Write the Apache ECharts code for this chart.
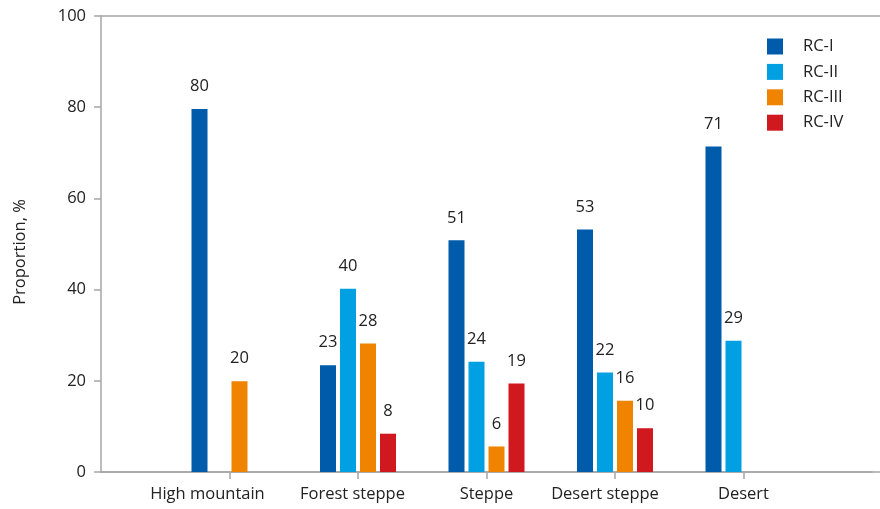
<!DOCTYPE html>
<html>
<head>
<meta charset="utf-8">
<script src="https://cdn.jsdelivr.net/npm/echarts@6/dist/echarts.min.js"></script>
<style>html,body{margin:0;padding:0;background:#fff}#c{width:880px;height:509px}</style>
</head>
<body>
<div id="c"></div>
<script>
var categories = ['', 'High mountain', 'Forest steppe', 'Steppe', 'Desert steppe', 'Desert', ''];
var seriesNames = ['RC-I', 'RC-II', 'RC-III', 'RC-IV'];
var rc1 = [null, 79.6, 23.4, 50.8, 53.2, 71.4, null];
var rc2 = [null, null, 40.2, 24.2, 21.8, 28.8, null];
var rc3 = [null, 19.9, 28.2, 5.6, 15.6, null, null];
var rc4 = [null, null, 8.4, 19.4, 9.6, null, null];
var yTicks = [0, 20, 40, 60, 80, 100];
var colors = ['#005BAA', '#00A0E3', '#F08300', '#D0181F'];
var labelShift = {'High mountain': 44, 'Forest steppe': 11, 'Desert steppe': 20};

var FONT = 'Open Sans';
var FS = 16.5;
var AX = '#a6a6a6';
var chart = echarts.init(document.getElementById('c'), null, {renderer: 'canvas'});

function mk(name, data, color) {
  return {
    name: name, type: 'bar', data: data, barWidth: 16, barGap: '25%',
    xAxisIndex: 0, yAxisIndex: 0,
    itemStyle: {color: color},
    label: {show: true, position: 'top', distance: 14, color: '#222', fontFamily: FONT, fontSize: FS,
      formatter: function (p) { return Math.round(p.value); }}
  };
}

chart.setOption({
  animation: false,
  textStyle: {fontFamily: FONT},
  grid: [
    {left: 101, right: 8, top: 16, bottom: 37},
    {left: 101, right: 0, top: 16, bottom: 37}
  ],
  legend: {
    orient: 'vertical', left: 762, top: 33, itemWidth: 16, itemHeight: 16, itemGap: 8.4,
    icon: 'rect', data: seriesNames,
    textStyle: {fontFamily: FONT, fontSize: FS, color: '#222', padding: [0, 0, 0, 15]}
  },
  xAxis: [
    {
      type: 'category', gridIndex: 0, boundaryGap: false,
      data: categories.map(function (c) {
        var s = labelShift[c] || 0;
        return {value: c, textStyle: {padding: [0, s, 0, 0]}};
      }),
      axisLine: {show: true, lineStyle: {color: AX, width: 1.5}},
      axisTick: {show: true, length: 7, lineStyle: {color: AX, width: 1.5},
        interval: function (i) { return i > 0 && i < categories.length - 1; }},
      axisLabel: {color: '#222', fontSize: FS, fontFamily: FONT, margin: 14, interval: 0},
      splitLine: {show: false}
    },
    {type: 'value', gridIndex: 1, position: 'bottom', min: 0, max: 1,
      axisLine: {show: true, lineStyle: {color: AX, width: 1.5}}, axisTick: {show: false},
      axisLabel: {show: false}, splitLine: {show: false}},
    {type: 'value', gridIndex: 1, position: 'top', min: 0, max: 1,
      axisLine: {show: true, lineStyle: {color: AX, width: 1.5}}, axisTick: {show: false},
      axisLabel: {show: false}, splitLine: {show: false}}
  ],
  yAxis: [
    {
      type: 'value', gridIndex: 0, min: yTicks[0], max: yTicks[yTicks.length - 1], interval: 20,
      name: 'Proportion, %', nameLocation: 'middle', nameGap: 72, nameRotate: 90,
      nameTextStyle: {color: '#222', fontSize: FS, fontFamily: FONT, padding: [0, 16, 0, 0]},
      axisLine: {show: true, lineStyle: {color: AX, width: 1.5}},
      axisTick: {show: true, inside: false, length: 7, lineStyle: {color: AX, width: 1.5}},
      axisLabel: {color: '#222', fontSize: FS, fontFamily: FONT, margin: 15},
      splitLine: {show: false}
    },
    {type: 'value', gridIndex: 1, show: false, min: 0, max: 1}
  ],
  series: [
    mk(seriesNames[0], rc1, colors[0]),
    mk(seriesNames[1], rc2, colors[1]),
    mk(seriesNames[2], rc3, colors[2]),
    mk(seriesNames[3], rc4, colors[3])
  ]
});
</script>
</body>
</html>
